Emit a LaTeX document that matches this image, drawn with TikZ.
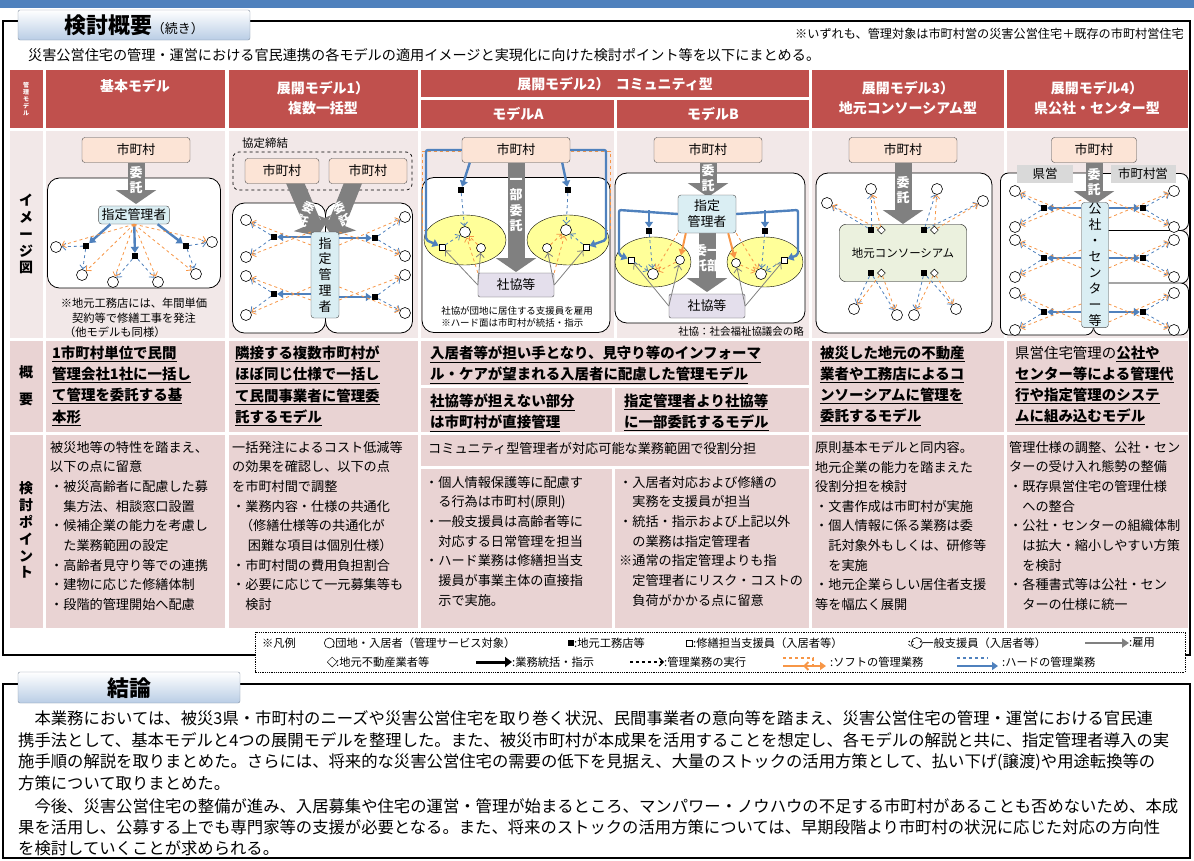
\documentclass[tikz,border=0pt]{standalone}
\usepackage{fontspec}
\setmainfont{Noto Sans CJK JP}
\usepackage{tikz}
\usetikzlibrary{arrows.meta, positioning, calc, shapes.geometric}
\definecolor{topblue}{HTML}{4F81BD}
\definecolor{hdrred}{HTML}{C0504D}
\definecolor{cellpink}{HTML}{E9D3D3}
\definecolor{imgpink}{HTML}{F2E8E8}
\definecolor{citypeach}{HTML}{FCE4D6}
\definecolor{mgrblue}{HTML}{DAEEF3}
\definecolor{shakyo}{HTML}{E4DFEC}
\definecolor{ellyellow}{HTML}{FFFF99}
\definecolor{consgreen}{HTML}{EBF1DE}
\definecolor{softorange}{HTML}{F79646}
\definecolor{hardblue}{HTML}{4F81BD}
\definecolor{arrowgray}{HTML}{808080}
\definecolor{labelgray}{HTML}{D9D9D9}
\definecolor{tabblue}{HTML}{B9CDE5}

% font helper
\newcommand{\fs}[2]{\fontsize{#1}{#2}\selectfont}
% big gray arrow
\newcommand{\grayarrow}[2]{%
  \draw[line width=17bp, arrowgray, -{Triangle[width=40bp,length=14bp]}] #1 -- #2;}

\begin{document}
\begin{tikzpicture}[x=1bp, y=-1bp,
    every node/.style={inner sep=0pt},
    hdr/.style={font=\fs{14}{20}\bfseries, text=white, align=center},
    gaiyo/.style={anchor=north west, font=\fs{14.5}{21.2}\bfseries, align=left},
    kento/.style={anchor=north west, font=\fs{13.2}{19.7}, align=left},
    city/.style={rectangle, rounded corners=3pt, draw=black!70, fill=citypeach,
        minimum width=108bp, minimum height=25bp, font=\fs{13}{15}},
    mgr/.style={rectangle, rounded corners=3pt, draw=black!70, fill=mgrblue,
        font=\fs{13}{16}, align=center, inner sep=3pt},
    shk/.style={rectangle, rounded corners=2pt, draw=black!70, fill=shakyo,
        minimum width=76bp, minimum height=24bp, font=\fs{13}{15}},
    zone/.style={rectangle, rounded corners=12pt, draw=black, fill=white, line width=0.8pt},
    res/.style={circle, draw=black, fill=white, minimum size=11bp, line width=0.6pt},
    shop/.style={rectangle, fill=black, minimum size=6bp},
    staff/.style={rectangle, draw=black, fill=white, minimum size=6bp, line width=0.8pt},
    realty/.style={diamond, draw=black, fill=white, minimum size=8bp, line width=0.5pt},
    soft/.style={draw=softorange, dashed, line width=0.8pt, -{Straight Barb[length=3.5bp]}},
    hard/.style={draw=hardblue, dashed, line width=0.8pt, -{Straight Barb[length=3.5bp]}},
    boss/.style={draw=hardblue, line width=2.4pt, -{Triangle[length=6bp,width=8bp]}},
    hire/.style={draw=arrowgray, line width=0.8pt, -{Straight Barb[length=4bp]}},
    alabel/.style={font=\fs{13}{15.5}\bfseries, text=white, align=center},
    note/.style={font=\fs{11.3}{14.5}, align=left}
]
\useasboundingbox (0,0) rectangle (1194,861);

% top bar and frames
\fill[topblue] (0,0) rectangle (1194,8);
\draw[line width=2.5pt] (3,21) rectangle (1190,655);
\shade[top color=white, bottom color=tabblue, draw=tabblue!70!black, rounded corners=2pt]
    (18,10) rectangle (250,40);
\node (title) at (134,25) {\fs{22}{23}\bfseries 検討概要\fs{13}{14}\mdseries （続き）};
\node[anchor=east, font=\fs{12.2}{13}] (scope) at (1184,34)
    {※いずれも、管理対象は市町村営の災害公営住宅＋既存の市町村営住宅};
\node[anchor=west, font=\fs{14.2}{15}] (intro) at (28,55)
    {災害公営住宅の管理・運営における官民連携の各モデルの適用イメージと実現化に向けた検討ポイント等を以下にまとめる。};

% ---- table cells ----
\fill[hdrred] (10,70) rectangle (43,128);
\foreach \xa/\xb in {46/225, 229/418, 812/1004, 1007/1188}
    \fill[hdrred] (\xa,70) rectangle (\xb,128);
\fill[hdrred] (421,70) rectangle (809,97);
\fill[hdrred] (421,100) rectangle (614,128);
\fill[hdrred] (617,100) rectangle (809,128);
\foreach \xa/\xb in {10/43, 46/225, 229/418, 421/614, 617/809, 812/1004, 1007/1188}
    \fill[imgpink] (\xa,131) rectangle (\xb,338);
\foreach \xa/\xb in {10/43, 46/225, 229/418, 812/1004, 1007/1188} {
    \fill[cellpink] (\xa,341) rectangle (\xb,432);
    \fill[cellpink] (\xa,435) rectangle (\xb,628);
}
\fill[cellpink] (421,341) rectangle (809,385);
\fill[cellpink] (421,388) rectangle (612,432);
\fill[cellpink] (615,388) rectangle (809,432);
\fill[cellpink] (421,435) rectangle (809,466);
\fill[cellpink] (421,469) rectangle (612,628);
\fill[cellpink] (615,469) rectangle (809,628);

% header texts
\node[font=\fs{6}{7}\bfseries, text=white, align=center] (lblmodel) at (26,99) {管\\理\\モ\\デ\\ル};
\node[hdr] (h1) at (135,86) {基本モデル};
\node[hdr] (h2) at (323,98) {展開モデル1）\\複数一括型};
\node[hdr] (h3) at (615,84) {展開モデル2）\ \ コミュニティ型};
\node[hdr] (h3a) at (518,114) {モデルA};
\node[hdr] (h3b) at (713,114) {モデルB};
\node[hdr] (h4) at (908,98) {展開モデル3）\\地元コンソーシアム型};
\node[hdr] (h5) at (1097,98) {展開モデル4）\\県公社・センター型};

% row labels
\node[font=\fs{14}{17}\bfseries, align=center] (lblimg) at (26,234) {イ\\メ\\ー\\ジ\\図};
\node[font=\fs{14}{27}\bfseries, align=center] (lblgai) at (26,386) {概\\要};
\node[font=\fs{14}{17}\bfseries, align=center] (lblken) at (26,530) {検\\討\\ポ\\イ\\ン\\ト};

% ---- image: basic model ----
\node[city] (city1) at (136,150) {市町村};
\node[zone, minimum width=173bp, minimum height=110bp] (zone1) at (134,233) {};
\grayarrow{(136,163)}{(136,204)}
\node[alabel] (itaku1) at (136,180) {委\\託};
\node[mgr] (mgr1) at (134,215) {指定管理者};
\foreach \n/\x/\y in {a/86/246, b/135/256, c/186/246}
    \node[shop] (s1\n) at (\x,\y) {};
\foreach \n/\x/\y in {a/56/247, b/82/275, c/113/282, d/158/282, e/196/274, f/212/242}
    \node[res] (r1\n) at (\x,\y) {};
\draw[boss] (mgr1.south west) ++(12,0) -- (s1a);
\draw[boss] (mgr1) -- (s1b);
\draw[boss] (mgr1.south east) ++(-12,0) -- (s1c);
\foreach \s/\r in {a/a, a/b, b/c, b/d, c/e, c/f}
    \draw[hard] (s1\s) -- (r1\r);
\foreach \r in {a,b,c,d,e,f}
    \draw[soft] (mgr1.south) -- (r1\r);
\node[note] (note1) at (134,318) {※地元工務店には、年間単価\\\hspace*{1em}契約等で修繕工事を発注\\\hspace*{0.3em}（他モデルも同様）};

% ---- image: joint model ----
\node[font=\fs{11.5}{13}, anchor=west] (kyotei) at (242,143) {協定締結};
\draw[dashed, rounded corners=6pt, line width=0.7pt] (233,152) rectangle (412,190);
\node[zone, minimum width=93bp, minimum height=130bp] (zone2a) at (279,268) {};
\node[zone, minimum width=87bp, minimum height=130bp] (zone2b) at (369,268) {};
\grayarrow{(293,178)}{(318,236)}
\grayarrow{(355,178)}{(332,236)}
\node[city, minimum width=74bp] (city2a) at (282,171) {市町村};
\node[city, minimum width=78bp] (city2b) at (368,171) {市町村};
\node[alabel, font=\fs{12}{14}\bfseries, rotate=-23] (itaku2a) at (306,214) {委\\託};
\node[alabel, font=\fs{12}{14}\bfseries, rotate=23] (itaku2b) at (342,214) {委\\託};
\node[mgr, minimum width=28bp, minimum height=86bp, inner sep=1pt] (mgr2) at (325,275) {指\\定\\管\\理\\者};
\foreach \n/\x/\y in {a/274/237, b/375/238, c/274/294, d/375/297}
    \node[shop] (s2\n) at (\x,\y) {};
\foreach \n/\x/\y in {a/246/220, b/246/257, c/246/276, d/246/315, e/405/217, f/405/256, g/405/275, h/405/313}
    \node[res] (r2\n) at (\x,\y) {};
\draw[boss] (mgr2.west |- s2a) -- (s2a);
\draw[boss] (mgr2.east |- s2b) -- (s2b);
\draw[boss] (mgr2.west |- s2c) -- (s2c);
\draw[boss] (mgr2.east |- s2d) -- (s2d);
\foreach \s/\r in {a/a, a/b, b/e, b/f, c/c, c/d, d/g, d/h}
    \draw[hard] (s2\s) -- (r2\r);
\foreach \r/\y in {a/245, b/232, c/300, d/287}
    \draw[soft] (mgr2.west |- {(0,\y)}) -- (r2\r);
\foreach \r/\y in {e/245, f/232, g/300, h/287}
    \draw[soft] (mgr2.east |- {(0,\y)}) -- (r2\r);

% ---- image: model A ----
\node[zone, minimum width=188bp, minimum height=155bp] (zone3) at (516,255) {};
\node[ellipse, draw=black, fill=ellyellow, minimum width=82bp, minimum height=50bp] (ell3a) at (465,240) {};
\node[ellipse, draw=black, fill=ellyellow, minimum width=82bp, minimum height=50bp] (ell3b) at (568,240) {};
\draw[softorange, dashed, line width=0.8pt] (427,230) -- (422,230) -- (422,151) -- (463,151);
\draw[softorange, dashed, line width=0.8pt] (605,230) -- (610,230) -- (610,151) -- (570,151);
\node[city] (city3) at (516,150) {市町村};
\grayarrow{(516,163)}{(516,272)}
\node[alabel] (itaku3) at (516,205) {一\\部\\委\\託};
\node[shk] (shk3) at (516,285) {社協等};
\node[shop] (s3a) at (461,190) {};
\node[shop] (s3b) at (568,190) {};
\node[res] (r3a) at (465,232) {};
\node[res] (r3b) at (566,230) {};
\node[staff] (t3a) at (442,247) {};
\node[staff] (t3b) at (586,247) {};
\node[res, minimum size=9bp] (u3a) at (481,248) {};
\node[res, minimum size=9bp] (u3b) at (547,248) {};
\draw[boss, rounded corners=2pt] (city3.west) -- (426,150) -- (426,240) -- (t3a);
\draw[boss, rounded corners=2pt] (city3.east) -- (606,150) -- (606,240) -- (t3b);
\draw[boss] (city3.south west) ++(8,0) -- (s3a);
\draw[boss] (city3.south east) ++(-8,0) -- (s3b);
\draw[hard] (s3a) -- (r3a);
\draw[hard] (s3b) -- (r3b);
\draw[hard] (t3a) -- (r3a);
\draw[hard] (t3b) -- (r3b);
\draw[soft] (u3a) -- (r3a);
\draw[soft] (u3b) -- (r3b);
\draw[soft] (shk3.north west) -- (r3a);
\draw[soft] (shk3.north east) -- (r3b);
\foreach \t in {t3a, u3a} \draw[hire] (shk3.west) -- (\t);
\foreach \t in {t3b, u3b} \draw[hire] (shk3.east) -- (\t);
\node[note, font=\fs{9.5}{12}] (note3) at (517,317) {社協が団地に居住する支援員を雇用\\※ハード面は市町村が統括・指示};

% ---- image: model B ----
\node[zone, minimum width=190bp, minimum height=150bp] (zone4) at (710,248) {};
\node[ellipse, draw=black, fill=ellyellow, minimum width=76bp, minimum height=50bp] (ell4a) at (653,262) {};
\node[ellipse, draw=black, fill=ellyellow, minimum width=76bp, minimum height=50bp] (ell4b) at (765,262) {};
\node[city] (city4) at (708,150) {市町村};
\grayarrow{(708,163)}{(708,197)}
\node[alabel] (itaku4) at (708,178) {委\\託};
\grayarrow{(707,233)}{(707,292)}
\node[alabel] (itaku4b) at (707,258) {委一\\託部};
\node[mgr, minimum width=58bp, minimum height=38bp] (mgr4) at (707,214) {指定\\管理者};
\node[shk] (shk4) at (707,306) {社協等};
\node[shop] (s4a) at (649,231) {};
\node[shop] (s4b) at (765,231) {};
\node[res] (r4a) at (653,274) {};
\node[res] (r4b) at (761,274) {};
\node[staff] (t4a) at (631,260) {};
\node[staff] (t4b) at (784,260) {};
\node[res, minimum size=9bp] (u4a) at (680,260) {};
\node[res, minimum size=9bp] (u4b) at (736,263) {};
\draw[boss, rounded corners=2pt] (mgr4.west) -- (619,210) -- (619,255) -- (t4a);
\draw[boss, rounded corners=2pt] (mgr4.east) -- (798,210) -- (798,255) -- (t4b);
\draw[boss] (649,210) -- (s4a);
\draw[boss] (765,210) -- (s4b);
\draw[draw=softorange, line width=2pt, -{Triangle[length=6bp,width=7bp]}] (mgr4.south west) ++(8,0) -- (u4a);
\draw[draw=softorange, line width=2pt, -{Triangle[length=6bp,width=7bp]}] (mgr4.south east) ++(-8,0) -- (u4b);
\foreach \s/\r in {s4a/r4a, s4b/r4b, t4a/r4a, t4b/r4b} \draw[hard] (\s) -- (\r);
\draw[soft] (u4a) -- (r4a);
\draw[soft] (u4b) -- (r4b);
\draw[soft] (mgr4.south west) -- (r4a);
\draw[soft] (mgr4.south east) -- (r4b);
\foreach \t in {t4a, u4a} \draw[hire] (shk4.west) -- (\t);
\foreach \t in {t4b, u4b} \draw[hire] (shk4.east) -- (\t);
\node[note, anchor=east, font=\fs{10.5}{12}] (note4) at (804,332) {社協：社会福祉協議会の略};

% ---- image: consortium model ----
\node[zone, minimum width=176bp, minimum height=160bp] (zone5) at (904,253) {};
\node[city] (city5) at (903,150) {市町村};
\grayarrow{(903,163)}{(903,224)}
\node[alabel] (itaku5) at (903,190) {委\\託};
\node[rectangle, rounded corners=6pt, draw=black, fill=consgreen, minimum width=127bp,
      minimum height=57bp, font=\fs{11.5}{13}] (cons5) at (903,253) {地元コンソーシアム};
\foreach \n/\x/\y in {a/871/230, b/924/230, c/871/273, d/924/273} {
    \node[shop] (s5\n) at (\x,\y) {};
    \node[realty, right=3bp of s5\n] (d5\n) {};
}
\foreach \n/\x/\y in {a/827/203, b/871/189, c/937/189, d/983/201, e/854/309, f/897/315, g/914/315, h/956/309}
    \node[res] (r5\n) at (\x,\y) {};
\foreach \s/\r in {a/a, a/b, b/c, b/d, c/e, c/f, d/g, d/h} {
    \draw[hard] (s5\s) -- (r5\r);
    \draw[soft] (d5\s) -- (r5\r);
}

% ---- image: prefecture corporation model ----
\node[zone, rounded corners=8pt, minimum width=93bp, minimum height=162bp] (zone6a) at (1047,254) {};
\node[zone, rounded corners=8pt, minimum width=95bp, minimum height=57bp] (zone6b) at (1141,202) {};
\node[zone, rounded corners=8pt, minimum width=95bp, minimum height=53bp] (zone6c) at (1141,257) {};
\node[zone, rounded corners=8pt, minimum width=95bp, minimum height=52bp] (zone6d) at (1141,309) {};
\node[fill=labelgray, minimum width=56bp, minimum height=18bp, font=\fs{12.5}{14}] (ken6) at (1045,174) {県営};
\node[fill=labelgray, minimum width=65bp, minimum height=18bp, font=\fs{12.5}{14}] (shi6) at (1143,174) {市町村営};
\node[city, minimum width=85bp] (city6) at (1094,150) {市町村};
\grayarrow{(1094,163)}{(1094,205)}
\node[alabel] (itaku6) at (1094,182) {委\\託};
\node[mgr, minimum width=27bp, minimum height=125bp, inner sep=1pt] (mgr6) at (1095,265) {公\\社\\・\\セ\\ン\\タ\\ー\\等};
\foreach \y [count=\i] in {208, 258, 312} {
    \node[shop] (s6l\i) at (1044,\y) {};
    \node[shop] (s6r\i) at (1143,\y) {};
    \draw[boss] (mgr6.west |- s6l\i) -- (s6l\i);
    \draw[boss] (mgr6.east |- s6r\i) -- (s6r\i);
}
\foreach \y [count=\i] in {191, 227, 240, 277, 293, 330} {
    \node[res] (r6l\i) at (1015,\y) {};
    \node[res] (r6r\i) at (1174,\y) {};
}
\foreach \s/\r in {1/1, 1/2, 2/3, 2/4, 3/5, 3/6} {
    \draw[hard] (s6l\s) -- (r6l\r);
    \draw[hard] (s6r\s) -- (r6r\r);
}
\foreach \r/\y in {1/218, 2/200, 3/268, 4/250, 5/322, 6/304} {
    \draw[soft] (mgr6.west |- {(0,\y)}) -- (r6l\r);
    \draw[soft] (mgr6.east |- {(0,\y)}) -- (r6r\r);
}

% ---- summary row ----
\node[gaiyo] (g1) at (52,346) {\underline{1市町村単位で民間}\\\underline{管理会社1社に一括し}\\\underline{て管理を委託する基}\\\underline{本形}};
\node[gaiyo] (g2) at (235,346) {\underline{隣接する複数市町村が}\\\underline{ほぼ同じ仕様で一括し}\\\underline{て民間事業者に管理委}\\\underline{託するモデル}};
\node[gaiyo] (g3) at (430,346) {\underline{入居者等が担い手となり、見守り等のインフォーマ}\\\underline{ル・ケアが望まれる入居者に配慮した管理モデル}};
\node[gaiyo] (g3a) at (430,394) {\underline{社協等が担えない部分}\\\underline{は市町村が直接管理}};
\node[gaiyo] (g3b) at (624,394) {\underline{指定管理者より社協等}\\\underline{に一部委託するモデル}};
\node[gaiyo] (g4) at (820,346) {\underline{被災した地元の不動産}\\\underline{業者や工務店によるコ}\\\underline{ンソーシアムに管理を}\\\underline{委託するモデル}};
\node[gaiyo] (g5) at (1015,346) {{\mdseries 県営住宅管理の}\underline{公社や}\\\underline{センター等による管理代}\\\underline{行や指定管理のシステ}\\\underline{ムに組み込むモデル}};

% ---- review points row ----
\node[kento] (k1) at (50,441) {被災地等の特性を踏まえ、\\以下の点に留意\\・被災高齢者に配慮した募\\\hspace*{1em}集方法、相談窓口設置\\・候補企業の能力を考慮し\\\hspace*{1em}た業務範囲の設定\\・高齢者見守り等での連携\\・建物に応じた修繕体制\\・段階的管理開始へ配慮};
\node[kento] (k2) at (232,441) {一括発注によるコスト低減等\\の効果を確認し、以下の点\\を市町村間で調整\\・業務内容・仕様の共通化\\\hspace*{0.6em}（修繕仕様等の共通化が\\\hspace*{1.2em}困難な項目は個別仕様）\\・市町村間の費用負担割合\\・必要に応じて一元募集等も\\\hspace*{1em}検討};
\node[kento] (k3) at (428,442) {コミュニティ型管理者が対応可能な業務範囲で役割分担};
\node[kento] (k3a) at (425,476) {・個人情報保護等に配慮す\\\hspace*{1em}る行為は市町村(原則)\\・一般支援員は高齢者等に\\\hspace*{1em}対応する日常管理を担当\\・ハード業務は修繕担当支\\\hspace*{1em}援員が事業主体の直接指\\\hspace*{1em}示で実施。};
\node[kento] (k3b) at (619,476) {・入居者対応および修繕の\\\hspace*{1em}実務を支援員が担当\\・統括・指示および上記以外\\\hspace*{1em}の業務は指定管理者\\※通常の指定管理よりも指\\\hspace*{1em}定管理者にリスク・コストの\\\hspace*{1em}負荷がかかる点に留意};
\node[kento] (k4) at (815,441) {原則基本モデルと同内容。\\地元企業の能力を踏まえた\\役割分担を検討\\・文書作成は市町村が実施\\・個人情報に係る業務は委\\\hspace*{1em}託対象外もしくは、研修等\\\hspace*{1em}を実施\\・地元企業らしい居住者支援\\等を幅広く展開};
\node[kento] (k5) at (1009,441) {管理仕様の調整、公社・セン\\ターの受け入れ態勢の整備\\・既存県営住宅の管理仕様\\\hspace*{1em}への整合\\・公社・センターの組織体制\\\hspace*{1em}は拡大・縮小しやすい方策\\\hspace*{1em}を検討\\・各種書式等は公社・セン\\\hspace*{1em}ターの仕様に統一};

% ---- legend ----
\draw[densely dotted, line width=0.8pt, fill=white] (255,632) rectangle (1185,672);
\begin{scope}[every node/.append style={font=\fs{11.3}{12}, anchor=west}]
\node (lg0) at (262,643) {※凡例};
\node[res, minimum size=10bp] (lgres) at (324,643) {};
\node (lg1) at (332,643) {:団地・入居者（管理サービス対象）};
\node[shop] (lgshop) at (568,643) {};
\node (lg2) at (574,643) {:地元工務店等};
\node[staff] (lgstaff) at (686,643) {};
\node (lg3) at (693,643) {:修繕担当支援員（入居者等）};
\node[res, minimum size=11bp] (lgsm) at (911,643) {};
\node (lg4) at (919,643) {:一般支援員（入居者等）};
\coordinate (lghire1) at (1085,643);
\node (lg5) at (1129,643) {:雇用};
\draw[draw=arrowgray, line width=2.5pt, -{Triangle[length=7bp,width=9bp]}] (lghire1) -- (lg5.west);
\node[realty, minimum size=10bp] (lgdia) at (327,662) {};
\node (lg6) at (336,662) {:地元不動産業者等};
\coordinate (lgboss1) at (476,662);
\node (lg7) at (512,662) {:業務統括・指示};
\draw[line width=3pt, -{Triangle[length=7bp,width=10bp]}] (lgboss1) -- (lg7.west);
\coordinate (lgexec1) at (630,662);
\node (lg8) at (664,662) {:管理業務の実行};
\draw[dashed, line width=1.2pt, -{Straight Barb[length=4bp]}] (lgexec1) -- (lg8.west);
\coordinate (lgsoft1) at (783,658);
\node (lg9) at (830,662) {:ソフトの管理業務};
\draw[draw=softorange, dashed, line width=2pt, -{Straight Barb[length=4bp]}] (lgsoft1) -- ++(30,0) -- ++(0,8) -- ++(-10,0);
\draw[draw=softorange, line width=2pt, -{Triangle[length=6bp,width=8bp]}] (783,666) -- (826,666);
\coordinate (lghard1) at (957,658);
\node (lg10) at (1002,662) {:ハードの管理業務};
\draw[draw=hardblue, line width=2pt, -{Triangle[length=6bp,width=8bp]}] (957,666) -- (998,666);
\draw[draw=hardblue, dashed, line width=2pt] (lghard1) -- ++(30,0);
\end{scope}
\begin{scope}[shift={(911,643)}]
\fill (-1.8,-1.5) circle (0.9); \fill (1.8,-1.5) circle (0.9);
\draw[line width=0.5pt] (-2.5,1.2) .. controls (0,3.8) .. (2.5,1.2);
\end{scope}

% ---- conclusion ----
\draw[line width=2.5pt] (3,684) rectangle (1190,858);
\shade[top color=white, bottom color=tabblue, draw=tabblue!70!black, rounded corners=2pt]
    (18,672) rectangle (240,703);
\node (concl) at (129,688) {\fs{22}{23}\bfseries 結論};
\begin{scope}[every node/.append style={anchor=west, font=\fs{16.4}{17}}]
\node (c1) at (18,718) {\hspace*{1em}本業務においては、被災3県・市町村のニーズや災害公営住宅を取り巻く状況、民間事業者の意向等を踏まえ、災害公営住宅の管理・運営における官民連};
\node (c2) at (18,740) {携手法として、基本モデルと4つの展開モデルを整理した。また、被災市町村が本成果を活用することを想定し、各モデルの解説と共に、指定管理者導入の実};
\node (c3) at (18,762) {施手順の解説を取りまとめた。さらには、将来的な災害公営住宅の需要の低下を見据え、大量のストックの活用方策として、払い下げ(譲渡)や用途転換等の};
\node (c4) at (18,783) {方策について取りまとめた。};
\node (c5) at (18,806) {\hspace*{1em}今後、災害公営住宅の整備が進み、入居募集や住宅の運営・管理が始まるところ、マンパワー・ノウハウの不足する市町村があることも否めないため、本成};
\node (c6) at (18,827) {果を活用し、公募する上でも専門家等の支援が必要となる。また、将来のストックの活用方策については、早期段階より市町村の状況に応じた対応の方向性};
\node (c7) at (18,848) {を検討していくことが求められる。};
\end{scope}
\end{tikzpicture}
\end{document}
